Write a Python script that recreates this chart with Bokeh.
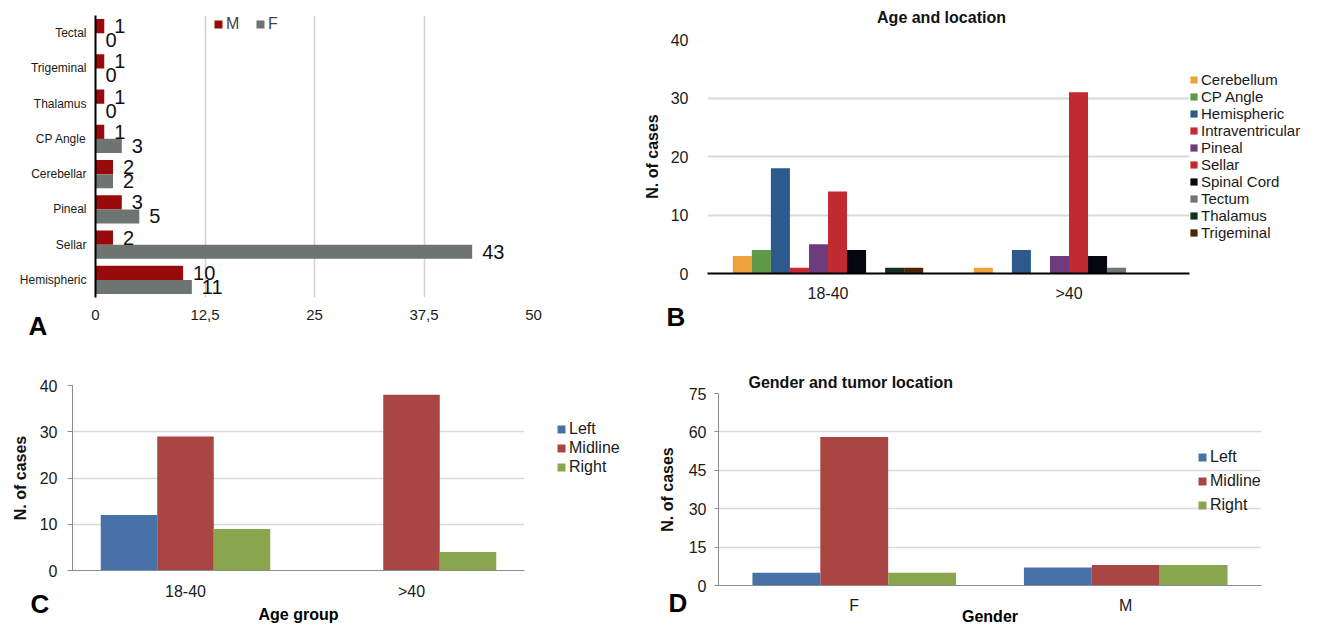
import math
from bokeh.plotting import figure
from bokeh.models import (FactorRange, Range1d, FixedTicker, SingleIntervalTicker, Label, Legend,
                          LegendItem, ColumnDataSource, CustomJSTickFormatter, Title)
from bokeh.transform import dodge
from bokeh.layouts import row, column
from bokeh.embed import file_html
from bokeh.resources import INLINE
from bokeh.core.properties import value

FONT = "Liberation Sans"

# ---------------- data ----------------
# Panel A: location by gender (bottom to top)
a_locations = ["Hemispheric", "Sellar", "Pineal", "Cerebellar", "CP Angle", "Thalamus", "Trigeminal", "Tectal"]
a_male = [10, 2, 3, 2, 1, 1, 1, 1]
a_female = [11, 43, 5, 2, 3, 0, 0, 0]
a_ticks = [0, 12.5, 25, 37.5, 50]

# Panel B: age and location
b_groups = ["18-40", ">40"]
b_locations = ["Cerebellum", "CP Angle", "Hemispheric", "Intraventricular", "Pineal", "Sellar",
               "Spinal Cord", "Tectum", "Thalamus", "Trigeminal"]
b_18_40 = [3, 4, 18, 1, 5, 14, 4, 0, 1, 1]
b_over_40 = [1, 0, 4, 0, 3, 31, 3, 1, 0, 0]
b_colors = ["#EDA23C", "#5E9A48", "#2D5A8C", "#C8282E", "#6E3B7C", "#C02A30",
            "#04070E", "#6E7774", "#13301A", "#4F2308"]

# Panel C: side by age group
c_groups = ["18-40", ">40"]
c_left = [12, 0]
c_midline = [29, 38]
c_right = [9, 4]

# Panel D: side by gender
d_groups = ["F", "M"]
d_left = [5, 7]
d_midline = [58, 8]
d_right = [5, 8]

sides = ["Left", "Midline", "Right"]
side_colors = ["#4672A8", "#A94543", "#89A54E"]


def title_label(text, x, y, size, align="center"):
    return Label(x=x, y=y, x_units="screen", y_units="screen", text=text,
                 text_font=FONT, text_font_size=size, text_font_style="bold",
                 text_align=align, text_baseline="middle", text_color="#111111")


def below_title(text, size, align, offset, standoff):
    return Title(text=text, align=align, offset=offset, standoff=standoff, vertical_align="top",
                 text_font=FONT, text_font_size=size, text_font_style="bold", text_color="#000000")


def base(p):
    p.outline_line_color = None
    p.background_fill_color = "white"
    p.border_fill_color = "white"
    for ax in (p.xaxis, p.yaxis):
        ax.major_label_text_font = FONT
        ax.axis_label_text_font = FONT
        ax.axis_label_text_font_style = "bold"
        ax.axis_label_text_font_size = "16px"
        ax.axis_label_text_color = "#111111"
        ax.minor_tick_line_color = None
        ax.major_label_text_color = "#1a1a1a"
        ax.major_tick_out = 0
        ax.major_tick_in = 0


def fig(**kw):
    return figure(output_backend="svg", toolbar_location=None, title_location=None, **kw)


def item_legend(items, loc, size, spacing, gw=10, margin=0, spacer=None):
    leg = Legend(items=items, location=loc, background_fill_alpha=0, border_line_color=None,
                 padding=0, margin=margin, spacing=spacing, label_standoff=3, glyph_width=gw,
                 glyph_height=gw, label_height=1, label_text_font=FONT, label_text_font_size=size,
                 label_text_color="#1a1a1a")
    if spacer is not None:
        leg.title = " "
        leg.title_text_font_size = "1px"
        leg.title_standoff = spacer
    return leg


# ---------------- Panel A ----------------
pA = fig(width=640, height=355, y_range=FactorRange(*a_locations), x_range=Range1d(0, 50),
         min_border_left=95, min_border_right=107, min_border_top=15, min_border_bottom=58)
base(pA)
srcA = ColumnDataSource(dict(loc=a_locations, m=a_male, f=a_female,
                             ml=[str(v) for v in a_male], fl=[str(v) for v in a_female]))
rM = pA.hbar(y=dodge("loc", 0.2, range=pA.y_range), left=0, right="m", height=0.4,
             fill_color="#990A0A", line_color=None, source=srcA)
rF = pA.hbar(y=dodge("loc", -0.2, range=pA.y_range), left=0, right="f", height=0.4,
             fill_color="#6E7471", line_color=None, source=srcA)
pA.text(x="m", y=dodge("loc", 0.2, range=pA.y_range), text="ml", source=srcA, x_offset=10,
        text_baseline="middle", text_font=value(FONT), text_font_size="20px", text_color="#111111")
pA.text(x="f", y=dodge("loc", -0.2, range=pA.y_range), text="fl", source=srcA, x_offset=10,
        text_baseline="middle", text_font=value(FONT), text_font_size="20px", text_color="#111111")
pA.xaxis.ticker = FixedTicker(ticks=a_ticks)
pA.xaxis.formatter = CustomJSTickFormatter(code="return tick.toString().replace('.', ',');")
pA.xaxis.axis_line_color = None
pA.xaxis.major_label_text_font_size = "15px"
pA.xaxis.major_label_standoff = 12
pA.yaxis.axis_line_color = "black"
pA.yaxis.axis_line_width = 2
pA.yaxis.major_label_text_font_size = "12px"
pA.yaxis.major_label_standoff = 9
pA.ygrid.visible = False
pA.xgrid.ticker = FixedTicker(ticks=a_ticks[1:])
pA.xgrid.grid_line_color = "#D3D3D3"
pA.xgrid.grid_line_width = 1.5
legA = Legend(items=[LegendItem(label="M", renderers=[rM]), LegendItem(label="F", renderers=[rF])],
              orientation="horizontal", location=(118, 264),
              background_fill_alpha=0, border_line_color=None, padding=0, margin=0, spacing=9,
              label_standoff=3, glyph_width=10, glyph_height=10, label_height=1,
              label_text_font=FONT, label_text_font_size="16px")
pA.add_layout(legA)
pA.add_layout(below_title("A", "26px", "left", -67, -24), "below")

# ---------------- Panel B ----------------
pB = fig(width=686, height=355, x_range=FactorRange(*b_groups), y_range=Range1d(0, 40),
         min_border_left=60, min_border_right=137, min_border_top=39, min_border_bottom=82)
base(pB)
dataB = dict(group=b_groups)
for i in range(len(b_locations)):
    dataB["s%d" % i] = [b_18_40[i], b_over_40[i]]
srcB = ColumnDataSource(dataB)
bw = 0.079
itemsB = []
for i, name in enumerate(b_locations):
    r = pB.vbar(x=dodge("group", (i - (len(b_locations) - 1) / 2) * bw, range=pB.x_range),
                top="s%d" % i, width=bw, fill_color=b_colors[i], line_color=None, source=srcB)
    itemsB.append(LegendItem(label=name, renderers=[r]))
pB.yaxis.ticker = SingleIntervalTicker(interval=10)
pB.yaxis.axis_line_color = None
pB.yaxis.major_label_text_font_size = "16px"
pB.yaxis.major_label_standoff = 15
pB.yaxis.axis_label = "N. of cases"
pB.yaxis.axis_label_standoff = 7
pB.xaxis.axis_line_color = "black"
pB.xaxis.axis_line_width = 2
pB.xaxis.major_label_text_font_size = "16px"
pB.xaxis.major_label_standoff = 11
pB.xgrid.visible = False
pB.ygrid.grid_line_color = "#D9D9D9"
pB.ygrid.grid_line_width = 2
pB.add_layout(title_label("Age and location", 234, 22, "16px"), "above")
pB.add_layout(item_legend(itemsB, "left", "15px", 0, gw=9), "right")
pB.add_layout(below_title("B", "26px", "left", -41, -6), "below")


# ---------------- Panels C / D ----------------
def side_panel(groups, left, mid, right, ymax, interval, width, height, borders, bar_w):
    p = fig(width=width, height=height, x_range=FactorRange(*groups), y_range=Range1d(0, ymax),
            min_border_left=borders[0], min_border_right=borders[1],
            min_border_top=borders[2], min_border_bottom=borders[3])
    base(p)
    src = ColumnDataSource(dict(group=groups, Left=left, Midline=mid, Right=right))
    items = []
    for i, s in enumerate(sides):
        r = p.vbar(x=dodge("group", (i - 1) * bar_w, range=p.x_range), top=s, width=bar_w,
                   fill_color=side_colors[i], line_color=None, source=src)
        items.append(LegendItem(label=s, renderers=[r]))
    p.yaxis.ticker = SingleIntervalTicker(interval=interval)
    p.yaxis.axis_line_color = "#8C8C8C"
    p.yaxis.major_tick_line_color = "#8C8C8C"
    p.yaxis.major_tick_out = 5
    p.yaxis.major_label_text_font_size = "16px"
    p.yaxis.axis_label = "N. of cases"
    p.xaxis.axis_line_color = "#8C8C8C"
    p.xaxis.major_label_text_font_size = "16px"
    p.xgrid.visible = False
    p.ygrid.grid_line_color = "#D9D9D9"
    p.ygrid.grid_line_width = 1.5
    return p, items


pC, itemsC = side_panel(c_groups, c_left, c_midline, c_right, 40, 10, 655, 270,
                        (72, 131, 30, 55), 0.25)
pC.yaxis.major_label_standoff = 10
pC.yaxis.axis_label_standoff = 8
pC.xaxis.major_label_standoff = 12
pC.add_layout(item_legend(itemsC, "top_left", "16px", 1, margin=32, spacer=2), "right")
pC.add_layout(below_title("C", "26px", "left", -42, -28), "below")
pC.add_layout(below_title("Age group", "16px", "center", 0, -2), "below")

pD, itemsD = side_panel(d_groups, d_left, d_midline, d_right, 75, 15, 671, 270,
                        (60, 65, 38, 40), 0.25)
pD.yaxis.major_tick_out = 4
pD.yaxis.major_label_standoff = 8
pD.yaxis.axis_label_standoff = 10
pD.xaxis.major_label_standoff = 11
pD.add_layout(title_label("Gender and tumor location", 30, 11, "16px", align="left"), "above")
pD.add_layout(item_legend(itemsD, (479, 71), "16px", 6))
pD.add_layout(below_title("Gender", "16px", "center", 0, -18), "below")
pD.add_layout(below_title("D", "26px", "left", -50, -59), "below")

layout = column(row(column(pA), column(pB)), row(column(pC), column(pD)))
open("out.html", "w").write(file_html(layout, INLINE))
